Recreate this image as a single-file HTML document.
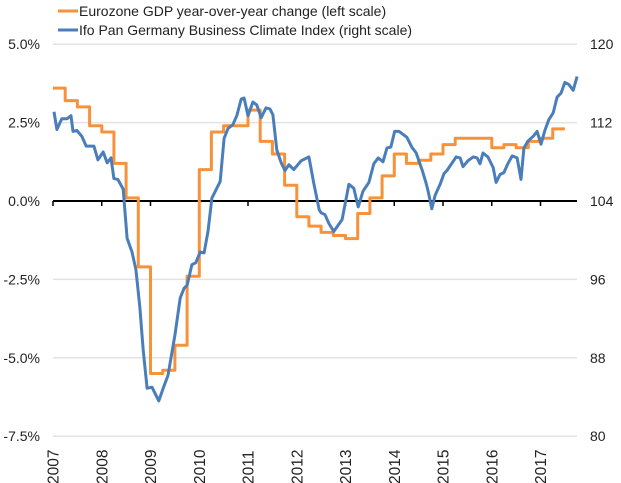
<!DOCTYPE html>
<html><head><meta charset="utf-8"><style>
html,body{margin:0;padding:0;background:#fff;}
svg{display:block;font-family:"Liberation Sans",sans-serif;}
</style></head><body>
<svg id="chart" width="621" height="483" viewBox="0 0 621 483" xmlns="http://www.w3.org/2000/svg">
<g id="grid"></g>
<g id="axes"></g>
<g id="series"></g>
<g id="legend">
  <line x1="58" y1="11" x2="78" y2="11" stroke="#f7923a" stroke-width="3"/>
  <text x="79" y="16" font-size="14" fill="#222">Eurozone GDP year-over-year change (left scale)</text>
  <line x1="58" y1="30" x2="78" y2="30" stroke="#4a7ebb" stroke-width="3"/>
  <text x="79" y="35" font-size="14" fill="#222">Ifo Pan Germany Business Climate Index (right scale)</text>
</g>
</svg>
<script>
const years = [2007,2008,2009,2010,2011,2012,2013,2014,2015,2016,2017];
const leftTicks = [5.0,2.5,0,-2.5,-5.0,-7.5];
const leftTickLabels = ["5.0%","2.5%","0.0%","-2.5%","-5.0%","-7.5%"];
const rightTicks = [120,112,104,96,88,80];
const gdpStart = 2007;
const gdpValues = [3.6,3.2,3.0,2.4,2.2,1.2,0.1,-2.1,-5.5,-5.4,-4.6,-2.4,1.0,2.2,2.4,2.4,2.9,1.9,1.5,0.5,-0.5,-0.8,-1.0,-1.1,-1.2,-0.4,0.1,0.8,1.5,1.2,1.3,1.5,1.8,2.0,2.0,2.0,1.7,1.8,1.7,1.9,2.0,2.3];
const ifoDates = [2007.02,2007.08,2007.18,2007.29,2007.37,2007.41,2007.49,2007.59,2007.68,2007.84,2007.92,2008.03,2008.11,2008.19,2008.25,2008.33,2008.44,2008.52,2008.62,2008.70,2008.78,2008.85,2008.93,2009.03,2009.17,2009.26,2009.36,2009.50,2009.61,2009.69,2009.75,2009.85,2009.93,2010.02,2010.10,2010.18,2010.26,2010.43,2010.51,2010.59,2010.69,2010.77,2010.86,2010.92,2011.00,2011.10,2011.18,2011.27,2011.37,2011.45,2011.51,2011.59,2011.68,2011.76,2011.84,2011.94,2012.09,2012.25,2012.35,2012.46,2012.50,2012.58,2012.66,2012.76,2012.93,2013.07,2013.17,2013.26,2013.36,2013.48,2013.58,2013.67,2013.77,2013.85,2013.93,2014.01,2014.10,2014.26,2014.36,2014.45,2014.57,2014.65,2014.69,2014.77,2014.84,2014.94,2015.02,2015.08,2015.27,2015.35,2015.41,2015.51,2015.62,2015.70,2015.76,2015.82,2015.92,2016.03,2016.09,2016.17,2016.25,2016.33,2016.42,2016.52,2016.60,2016.66,2016.74,2016.85,2016.93,2017.01,2017.09,2017.17,2017.26,2017.34,2017.42,2017.50,2017.58,2017.67,2017.75];
const ifoValues = [113.1,111.3,112.4,112.4,112.7,111.1,111.2,110.6,109.6,109.6,108.2,109.0,107.9,108.4,106.3,106.2,105.2,100.2,98.8,97.0,93.2,88.8,84.9,85.0,83.6,84.9,86.2,90.3,94.1,95.1,95.4,97.5,97.7,98.8,98.7,100.9,104.3,106.0,110.4,111.4,111.8,112.7,114.4,114.5,112.7,114.1,113.8,112.5,113.5,113.4,112.8,109.2,107.9,107.1,107.7,107.2,108.1,108.5,105.8,103.1,102.8,102.6,101.7,100.9,102.1,105.7,105.3,103.4,105.0,105.9,107.8,108.4,108.0,109.4,109.5,111.1,111.1,110.5,109.5,108.9,107.2,105.9,105.1,103.2,104.6,105.7,106.8,107.1,108.5,108.4,107.5,108.1,108.5,108.4,107.8,108.9,108.5,107.4,105.9,106.7,106.9,107.8,108.6,108.4,106.2,109.4,110.1,110.6,111.1,109.8,111.2,112.3,113.0,114.6,115.0,116.1,115.9,115.3,116.7];

const NS="http://www.w3.org/2000/svg";
const X0=53, PXY=48.75;
function xScale(yr){return X0+(yr-2007)*PXY;}
function yLeft(v){return 201-v*(78.4/2.5);}
function yRight(v){return 201-(v-104)*(78.4/8);}
function mk(tag,attrs,parent){const e=document.createElementNS(NS,tag);for(const k in attrs)e.setAttribute(k,attrs[k]);parent.appendChild(e);return e;}
const grid=document.getElementById('grid'),axes=document.getElementById('axes'),series=document.getElementById('series');

leftTicks.forEach((v,i)=>{
  const y=yLeft(v);
  if(v!==0){const g=mk('line',{x1:53,x2:577,y1:y,y2:y,stroke:'#e3e3e3','stroke-width':1.5},grid);
  
  }
  const t=mk('text',{x:40,y:y+5,'text-anchor':'end','font-size':14,fill:'#222'},axes);
  t.textContent=leftTickLabels[i];
  
  
});
rightTicks.forEach(v=>{
  const t=mk('text',{x:590,y:yRight(v)+5,'font-size':14,fill:'#222'},axes);
  t.textContent=String(v);
  
  
});
const zl=mk('line',{x1:53,x2:577,y1:yLeft(0),y2:yLeft(0),stroke:'#000','stroke-width':2},axes);


years.forEach(yr=>{
  const x=xScale(yr);
  const tk=mk('line',{x1:x,x2:x,y1:yLeft(0),y2:yLeft(0)+5,stroke:'#000','stroke-width':1.5},axes);
  
  
  const t=mk('text',{transform:`translate(${x+5.5},484) rotate(-90)`,'font-size':15.5,fill:'#222'},axes);
  t.textContent=String(yr);
  
  
});

let d='';
gdpValues.forEach((v,i)=>{
  const xa=xScale(gdpStart+i*0.25), xb=xScale(gdpStart+(i+1)*0.25), y=yLeft(v);
  d+=(i===0?'M':'L')+xa.toFixed(1)+','+y.toFixed(1)+'L'+xb.toFixed(1)+','+y.toFixed(1);
});
const gp=mk('path',{d:d,fill:'none',stroke:'#f7923a','stroke-width':3,'stroke-linejoin':'round'},series);



let d2='';
ifoDates.forEach((dt,i)=>{d2+=(i===0?'M':'L')+xScale(dt).toFixed(1)+','+yRight(ifoValues[i]).toFixed(1);});
const ip=mk('path',{d:d2,fill:'none',stroke:'#4a7ebb','stroke-width':3,'stroke-linejoin':'round'},series);


</script>
</body></html>
